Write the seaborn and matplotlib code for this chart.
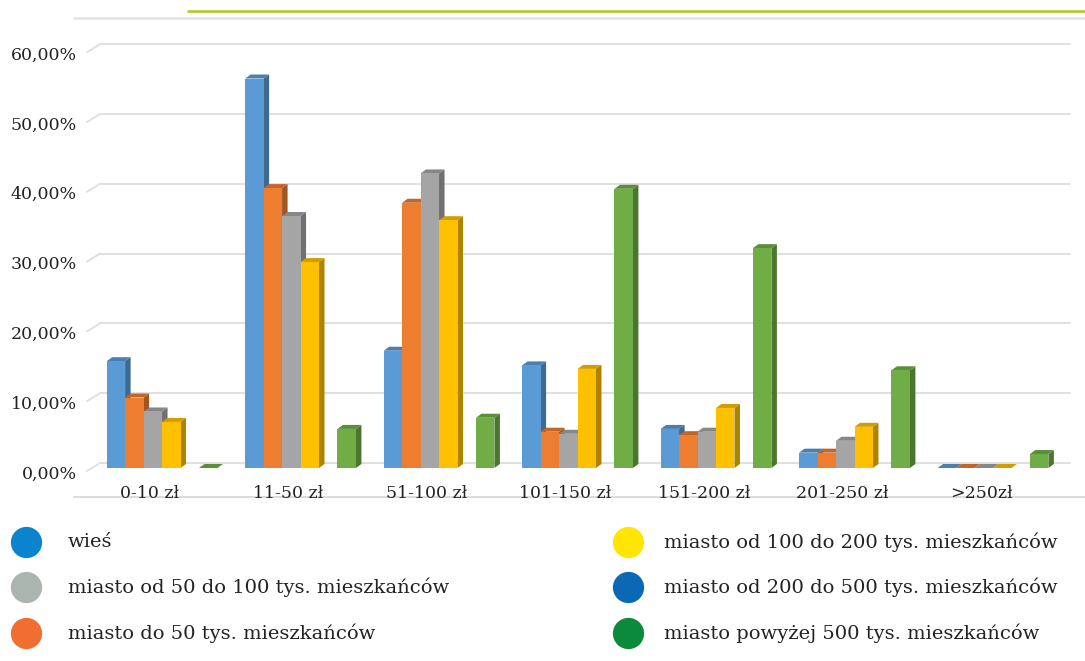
import numpy as np
import pandas as pd
import matplotlib
matplotlib.use("Agg")
import matplotlib.pyplot as plt
import matplotlib.colors as mcolors
from matplotlib.patches import Polygon
from matplotlib.lines import Line2D
from matplotlib.transforms import ScaledTranslation
import seaborn as sns

# ---- data -------------------------------------------------------------
categories = ["0-10 zł", "11-50 zł", "51-100 zł", "101-150 zł",
              "151-200 zł", "201-250 zł", ">250zł"]

series = ["wieś",
          "miasto do 50 tys. mieszkańców",
          "miasto od 50 do 100 tys. mieszkańców",
          "miasto od 100 do 200 tys. mieszkańców",
          "miasto od 200 do 500 tys. mieszkańców",
          "miasto powyżej 500 tys. mieszkańców"]

wies = [15.3, 55.8, 16.8, 14.7, 5.6, 2.2, 0.0]
miasto_do_50 = [10.1, 40.1, 38.0, 5.2, 4.7, 2.2, 0.0]
miasto_50_100 = [8.1, 36.1, 42.2, 4.9, 5.2, 3.9, 0.0]
miasto_100_200 = [6.6, 29.5, 35.5, 14.2, 8.6, 5.9, 0.0]
miasto_200_500 = [np.nan, np.nan, np.nan, np.nan, np.nan, np.nan, np.nan]
miasto_500_plus = [0.0, 5.6, 7.2, 40.0, 31.5, 14.0, 2.0]

y_ticks = [0, 10, 20, 30, 40, 50, 60]

bar_colors = ["#5b9bd5", "#ed7d31", "#a5a5a5", "#ffc000", "#4472c4", "#70ad47"]
legend_colors = ["#0a84cc", "#ef6e30", "#a9b5ae", "#ffe500", "#0a68b4", "#0b8a3b"]

values = [wies, miasto_do_50, miasto_50_100, miasto_100_200,
          miasto_200_500, miasto_500_plus]
df = pd.DataFrame({
    "kategoria": np.tile(categories, len(series)),
    "grupa": np.repeat(series, len(categories)),
    "udzial": np.concatenate(values),
})

# ---- figure ------------------------------------------------------------
sns.set_theme(style="white")
plt.rcParams["font.family"] = ["DejaVu Serif", "DejaVu Sans"]
TXT = "#222222"

W, H = 1085, 661
fig = plt.figure(figsize=(W / 100, H / 100), dpi=100)
fig.patch.set_facecolor("white")


def fx(px):
    return px / W


def fy(py):
    return 1 - py / H


ax = fig.add_axes([fx(100), fy(468), fx(1070) - fx(100), fy(49.2) - fy(468)])
sns.barplot(data=df, x="kategoria", y="udzial", hue="grupa",
            order=categories, hue_order=series, palette=bar_colors,
            errorbar=None, width=0.8, linewidth=0, legend=False,
            saturation=1, ax=ax, zorder=2)

ax.set_xlim(-0.448, 6.556)
ax.set_ylim(0, 60)
for s in ax.spines.values():
    s.set_visible(False)
ax.set_xlabel("")
ax.set_ylabel("")
ax.grid(False)
ax.set_facecolor("none")

# pixel scale of the data axes
p0 = ax.transData.transform((0, 0))
p1 = ax.transData.transform((1, 1))
px_per_x = p1[0] - p0[0]
px_per_y = p1[1] - p0[1]

# 3D look: right side and top face for every bar
depth_x, depth_y = 5.5, 4.0
dx = depth_x / px_per_x
dy = depth_y / px_per_y


def shade(c, f):
    r, g, b = mcolors.to_rgb(c)
    return (r * f, g * f, b * f)


bars = [b for b in ax.patches if np.isfinite(b.get_height()) and b.get_width() > 0]
for b in bars:
    h = b.get_height()
    x0 = b.get_x()
    x1 = x0 + b.get_width()
    fc = b.get_facecolor()
    ax.add_patch(Polygon([(x1, 0), (x1 + dx, dy), (x1 + dx, h + dy), (x1, h)],
                         closed=True, facecolor=shade(fc, 0.68),
                         edgecolor="none", zorder=1.5, clip_on=False))
    ax.add_patch(Polygon([(x0, h), (x0 + dx, h + dy), (x1 + dx, h + dy), (x1, h)],
                         closed=True, facecolor=shade(fc, 0.82),
                         edgecolor="none", zorder=1.6, clip_on=False))

# back-wall gridlines with the small perspective floor stub on the left
grid_col = "#e0e0e0"
back = ScaledTranslation(0, 5 / 100, fig.dpi_scale_trans)
x_left, x_right = ax.get_xlim()
for t in y_ticks:
    ax.plot([x_left, x_right], [t, t], color=grid_col, lw=1.4,
            transform=ax.transData + back, zorder=0.5, clip_on=False)
    yb = ax.transData.transform((x_left, t))[1] + 5
    xb = ax.transData.transform((x_left, t))[0]
    fig.add_artist(Line2D([fx(xb - 13), fx(xb)],
                          [(yb - 8) / H, yb / H],
                          color=grid_col, lw=1.4, zorder=0.5))

# y tick labels
ax.set_yticks(y_ticks)
ax.set_yticklabels([f"{t},00%" for t in y_ticks])
ax.tick_params(axis="y", length=0, pad=16.5, labelsize=12.5, labelcolor=TXT)
down = ScaledTranslation(0, -4 / 100, fig.dpi_scale_trans)
for lab in ax.get_yticklabels():
    lab.set_transform(lab.get_transform() + down)

# x tick labels, shifted slightly left as in a 3D projection
ax.tick_params(axis="x", length=0, pad=12, labelsize=12.5, labelcolor=TXT)
left = ScaledTranslation(-12 / 100, 0, fig.dpi_scale_trans)
for lab in ax.get_xticklabels():
    lab.set_transform(lab.get_transform() + left)

# decorative rules
fig.add_artist(Line2D([fx(74), fx(1085)], [fy(497), fy(497)],
                      color="#dcdcdc", lw=1.4, zorder=0))
fig.add_artist(Line2D([fx(74), fx(1085)], [fy(18), fy(18)],
                      color="#e4e4e4", lw=1.8))
fig.add_artist(Line2D([fx(188), fx(1085)], [fy(10.5), fy(10.5)],
                      color="#b3cb3a", lw=2.0))

# legend: two columns of dots and labels
legend_layout = [
    (0, 26, 68, 542), (2, 26, 68, 587), (1, 26, 68, 633),
    (3, 628, 664, 542), (4, 628, 664, 587), (5, 628, 664, 633),
]
for idx, cx, tx, cy in legend_layout:
    fig.add_artist(Line2D([fx(cx)], [fy(cy)], marker="o", markersize=22.5,
                          markerfacecolor=legend_colors[idx],
                          markeredgecolor="none", linestyle="none"))
    fig.text(fx(tx), fy(cy), series[idx], fontsize=14, color=TXT,
             va="center", ha="left")

fig.savefig("out.png", dpi=100, facecolor="white")
